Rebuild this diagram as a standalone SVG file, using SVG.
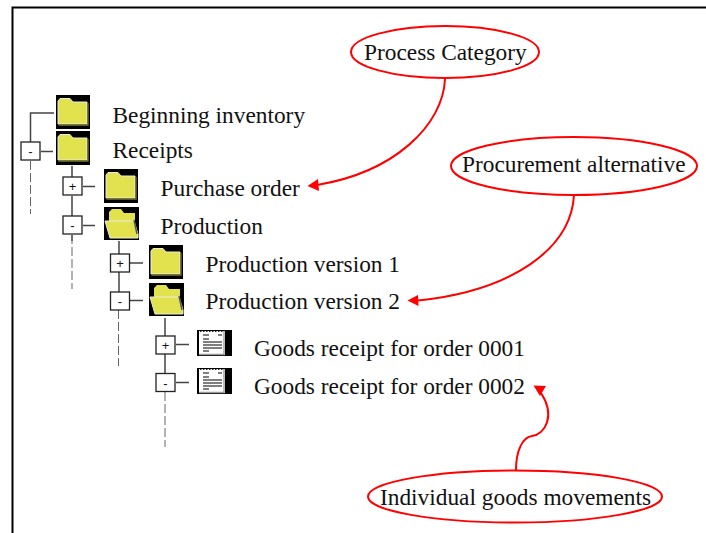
<svg xmlns="http://www.w3.org/2000/svg" width="706" height="533" viewBox="0 0 706 533">
<style>
text{font-family:"Liberation Serif","Times New Roman",serif;font-size:23.35px;fill:#111}
.sign{font-family:"Liberation Sans",Arial,sans-serif;font-size:13px;text-anchor:middle;fill:#111}
.l{stroke:#444;stroke-width:1.5;fill:none}
.d{stroke:#666;stroke-width:1;fill:none;stroke-dasharray:9 3}
.box{fill:#fff;stroke:#222;stroke-width:1.3}
.e{fill:none;stroke:#f00;stroke-width:2}
.a{fill:none;stroke:#f00;stroke-width:2}
.ah{fill:#f00}
</style>
<defs>
<g id="closed">
<rect x="0" y="0" width="34" height="34" fill="#000"/>
<path d="M2 29V6L4 3.500H14L17 7H31V29Z" fill="#e2e24e" stroke="#ecece0" stroke-width="1"/>
<path d="M2.500 30H32V8" fill="none" stroke="#77772f" stroke-width="1.300"/>
</g>
<g id="open">
<rect x="0" y="0" width="35" height="33" fill="#000"/>
<path d="M5 14V5L8 2H17L20 6H31V14Z" fill="#e2e24e"/>
<path d="M1 14H30L34 27V31H6Z" fill="#e2e24e" stroke="#ecece0" stroke-width="1"/>
<path d="M30 13L33 27" stroke="#555" stroke-width="1.500"/>
</g>
<g id="doc">
<rect x="0" y="0" width="35" height="26" fill="#000"/>
<rect x="2" y="1" width="26" height="24" fill="#fff"/>
<path d="M2 24.500H27V1" fill="none" stroke="#999" stroke-width="1.300"/>
<path d="M6 5H12M6 9H12M21 5H25M6 12H25M6 15H25M6 18H25M6 21H12" stroke="#555" stroke-width="1.400"/>
<path d="M3 1.500H27" stroke="#222" stroke-width="1.200" stroke-dasharray="1.500 1.500"/>
</g>
</defs>
<g id="frame"><path d="M12.500 533V7.500H706" fill="none" stroke="#000" stroke-width="2"/></g>
<g id="connectors">
<path class="l" d="M54 113H30.500V142M41 151.500H53"/>
<path class="d" d="M30.500 161V214"/>
<path class="l" d="M72 166V177M72 196V216M83 186.500H95M83 225.500H95M72 235V241"/>
<path class="d" d="M72 235V289"/>
<path class="l" d="M119 241V254M119 272V292M130 263H143M130 300.500H143"/>
<path class="d" d="M118.500 310V366"/>
<path class="l" d="M165 318V336M165 354V373M176 344.500H189M176 382.500H189"/>
<path class="d" d="M165 392V447"/>
<path class="a" d="M445 79C443 125 395 172 317 185"/>
<path class="ah" d="M307.500 186L318 179L319 191Z"/>
<path class="a" d="M574 195C571 250 510 291 418 300.500"/>
<path class="ah" d="M407.500 300.500L418 295L418.500 306Z"/>
<path class="a" d="M516 470C516 450 523 437 532 436C545 434 556 416 541 393"/>
<path class="ah" d="M533.500 385.500L546 386L540 396Z"/>
</g>
<g id="n-beginning"><use href="#closed" x="56" y="95"/><text x="112.500" y="122.500">Beginning inventory</text></g>
<g id="n-receipts"><rect class="box" x="21" y="142" width="19" height="18"/><text class="sign" x="30.500" y="156">-</text><use href="#closed" x="56" y="131"/><text x="112.500" y="157.500">Receipts</text></g>
<g id="n-purchase"><rect class="box" x="63" y="177" width="19" height="18"/><text class="sign" x="72.500" y="191">+</text><use href="#closed" x="104" y="169"/><text x="160.500" y="195.500">Purchase order</text></g>
<g id="n-production"><rect class="box" x="63" y="216" width="19" height="18"/><text class="sign" x="72.500" y="230">-</text><use href="#open" x="104" y="207"/><text x="160.500" y="233.500">Production</text></g>
<g id="n-version1"><rect class="box" x="110.500" y="254" width="19" height="18"/><text class="sign" x="120" y="268">+</text><use href="#closed" x="149" y="245"/><text x="205.500" y="272">Production version 1</text></g>
<g id="n-version2"><rect class="box" x="110.500" y="292" width="19" height="18"/><text class="sign" x="120" y="306">-</text><use href="#open" x="149" y="283"/><text x="205.500" y="309">Production version 2</text></g>
<g id="n-gr1"><rect class="box" x="156" y="336" width="19" height="18"/><text class="sign" x="165.500" y="350">+</text><use href="#doc" x="197" y="330"/><text x="254" y="356">Goods receipt for order 0001</text></g>
<g id="n-gr2"><rect class="box" x="156" y="373.500" width="19" height="18"/><text class="sign" x="165.500" y="388">-</text><use href="#doc" x="197" y="368"/><text x="254" y="394">Goods receipt for order 0002</text></g>
<g id="n-category"><ellipse class="e" cx="445" cy="52" rx="94" ry="26"/><text x="364" y="59.500">Process Category</text></g>
<g id="n-alternative"><ellipse class="e" cx="574" cy="166" rx="123" ry="29"/><text x="462" y="171.500">Procurement alternative</text></g>
<g id="n-movements"><ellipse class="e" cx="515" cy="496.500" rx="147" ry="26"/><text x="380" y="504.500">Individual goods movements</text></g>
</svg>
